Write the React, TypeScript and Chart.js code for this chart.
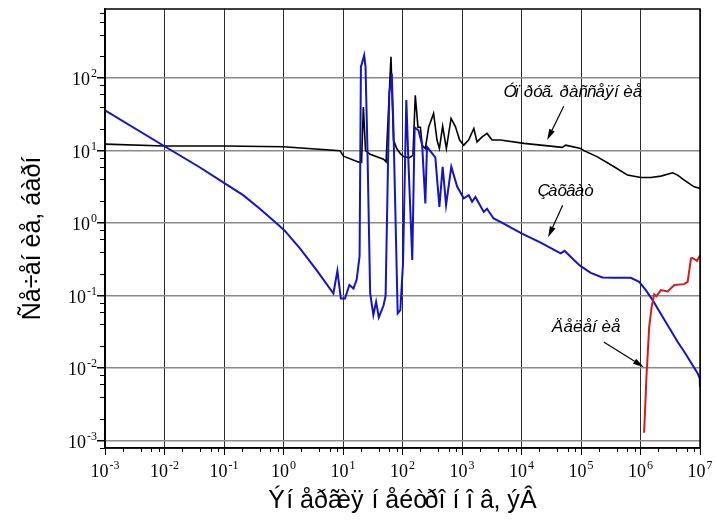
import { useEffect, useRef } from "react";
import { Chart, registerables } from "chart.js";

Chart.register(...registerables);

// Capture cross-section (blue)
const captureEnergy = [
  1e-3, 0.01, 0.039, 0.1, 0.21, 0.4, 0.77, 1.03, 1.89, 3.6, 6.9, 8.05, 9.2, 10.8, 12.8, 15, 17, 19,
  20, 22.7, 23.9, 25.7, 28.6, 32.4, 36, 40, 48, 52, 60, 66, 70.6, 83, 92, 102, 116, 126, 146, 160,
  186, 214, 242, 258, 356, 417, 473, 540, 661, 828, 1070, 1300, 1480, 1680, 2320, 2630, 3400, 4430,
  10000, 21000, 45500, 53000, 76000, 98800, 1.46e5, 2.29e5, 3.6e5, 6.87e5, 9.5e5, 1.23e6, 1.6e6,
  1.94e6, 4.2e6, 5.44e6, 9.15e6, 9.9e6, 1e7,
];
const captureXs = [
  36, 11.5, 5.9, 3.6, 2.43, 1.58, 0.99, 0.8, 0.448, 0.225, 0.107, 0.22, 0.091, 0.091, 0.14, 0.125,
  0.168, 0.35, 143, 207, 143, 11.3, 0.108, 0.054, 0.082, 0.05, 0.073, 0.1, 62, 116, 19.2, 0.057,
  0.063, 0.28, 50, 6.7, 0.31, 21, 19, 12, 1.87, 11.3, 8.1, 1.68, 6.0, 1.77, 6.0, 3.2, 2.2, 2.43,
  1.97, 2.3, 1.43, 1.58, 1.16, 1.04, 0.72, 0.537, 0.382, 0.415, 0.31, 0.255, 0.206, 0.178, 0.176,
  0.176, 0.155, 0.119, 0.0867, 0.0665, 0.0231, 0.0168, 0.00845, 0.0072, 0.0055,
];

// Elastic scattering cross-section (black)
const elasticEnergy = [
  1e-3, 0.01, 0.1, 1, 8.9, 10.2, 18, 20.5, 22, 23.9, 28.6, 48, 53, 64, 70.6, 80, 92, 104, 130, 150,
  164, 182, 200, 214, 242, 275, 333, 380, 417, 473, 546, 655, 775, 913, 1070, 1290, 1580, 1790,
  2180, 2630, 3200, 4430, 11000, 48600, 55200, 98800, 1.12e5, 1.89e5, 3.6e5, 6.05e5, 1.01e6, 1.5e6,
  2.2e6, 3.47e6, 4.2e6, 5.43e6, 8.0e6, 1e7,
];
const elasticXs = [
  12.3, 11.6, 11.6, 11.3, 10.0, 8.4, 7.0, 6.9, 40, 10, 8.9, 7.6, 7.0, 197, 14, 10.7, 9.1, 8.3, 8.0,
  8.6, 58, 21, 21, 11.8, 10.7, 21, 32.6, 14, 10.7, 21.8, 10.7, 27.8, 21.5, 14, 11.9, 14, 20.2, 13.2,
  15.5, 17.3, 14, 14, 12.6, 11.1, 11.9, 10.7, 10, 8.2, 6.0, 4.6, 4.27, 4.27, 4.45, 4.95, 4.6, 3.92,
  3.17, 3.01,
];

// Fission cross-section (red)
const fissionEnergy = [
  1.15e6, 1.26e6, 1.4e6, 1.54e6, 1.7e6, 1.85e6, 2.2e6, 2.86e6, 3.7e6, 5.4e6, 6.2e6, 7.06e6, 7.5e6,
  8.5e6, 8.9e6, 1e7,
];
const fissionXs = [
  0.00128, 0.0077, 0.037, 0.07, 0.104, 0.098, 0.119, 0.114, 0.14, 0.144, 0.155, 0.326, 0.33, 0.31,
  0.3, 0.36,
];

// Axis ranges and decade exponents for tick labels
const xExponents = [-3, -2, -1, 0, 1, 2, 3, 4, 5, 6, 7];
const yExponents = [-3, -2, -1, 0, 1, 2];
const xRange = [1e-3, 1e7];
const yRange = [7.9e-4, 900];
const minorSteps = [2, 4, 6, 8];

// Titles are stored as single-byte (1251) text shown through a Latin-1 font
const xTitle = "Ýíåðãèÿ íåéòðîíîâ, ýÂ";
const yTitle = "Ñå÷åíèå, áàðí";

// Annotations: [text, text x, text y, arrow start x, arrow start y, arrow tip x, arrow tip y] in data units
const notes: [string, number, number, number, number, number, number][] = [
  ["Óïðóã. ðàññåÿíèå", 4990, 54.7, 51200, 41, 27000, 14],
  ["Çàõâàò", 18600, 2.35, 49200, 1.77, 28000, 0.64],
  ["Äåëåíèå", 32100, 0.0314, 2.41e5, 0.0229, 1.14e6, 0.0103],
];

const serif = '"Liberation Serif", "Times New Roman", serif';
const sans = '"Liberation Sans", Arial, sans-serif';

function pairs(xs: number[], ys: number[]) {
  return xs.map((x, i) => ({ x, y: ys[i] }));
}

// Glyph advance follows the 1251 letter the byte stands for, as the original font metrics did
function advanceOf(ctx: CanvasRenderingContext2D, ch: string) {
  const c = ch.charCodeAt(0);
  const src = c >= 0xc0 && c <= 0xff ? String.fromCharCode(0x410 + c - 0xc0) : ch;
  return ctx.measureText(src).width;
}

function drawCodepageText(ctx: CanvasRenderingContext2D, text: string, x: number, y: number, align: "left" | "center") {
  const chars = Array.from(text);
  const adv = chars.map((ch) => advanceOf(ctx, ch));
  const total = adv.reduce((s, v) => s + v, 0);
  let cx = align === "center" ? x - total / 2 : x;
  ctx.textAlign = "left";
  chars.forEach((ch, i) => {
    ctx.fillText(ch, cx, y);
    cx += adv[i];
  });
}

function drawPower(ctx: CanvasRenderingContext2D, exp: number, px: number, baseline: number, align: "center" | "right") {
  const base = "10";
  const sup = String(exp);
  ctx.font = `18px ${serif}`;
  const wb = ctx.measureText(base).width;
  ctx.font = `12px ${serif}`;
  const ws = ctx.measureText(sup).width;
  const total = wb + 1 + ws;
  const left = align === "center" ? px - total / 2 : px - total;
  ctx.textAlign = "left";
  ctx.textBaseline = "alphabetic";
  ctx.font = `18px ${serif}`;
  ctx.fillText(base, left, baseline);
  ctx.font = `12px ${serif}`;
  ctx.fillText(sup, left + wb + 1, baseline - 8);
}

const decorations = {
  id: "decorations",
  afterDraw(chart: any) {
    const { ctx, chartArea: a } = chart;
    const xs = chart.scales.x;
    const ys = chart.scales.y;
    ctx.save();
    ctx.fillStyle = "#000";
    ctx.strokeStyle = "#000";

    // plot frame
    ctx.lineWidth = 1.5;
    ctx.strokeRect(a.left, a.top, a.right - a.left, a.bottom - a.top);

    // minor ticks
    ctx.lineWidth = 1;
    ctx.beginPath();
    for (const e of xExponents) {
      for (const m of minorSteps) {
        const v = m * Math.pow(10, e);
        if (v < xRange[0] || v > xRange[1]) continue;
        const p = Math.round(xs.getPixelForValue(v)) + 0.5;
        ctx.moveTo(p, a.bottom);
        ctx.lineTo(p, a.bottom + 4);
      }
    }
    for (let e = -4; e <= 2; e++) {
      for (const m of minorSteps) {
        const v = m * Math.pow(10, e);
        if (v < yRange[0] || v > yRange[1]) continue;
        const p = Math.round(ys.getPixelForValue(v)) + 0.5;
        ctx.moveTo(a.left - 5, p);
        ctx.lineTo(a.left, p);
      }
    }
    ctx.stroke();

    // tick labels
    for (const e of xExponents) {
      drawPower(ctx, e, xs.getPixelForValue(Math.pow(10, e)), a.bottom + 29, "center");
    }
    for (const e of yExponents) {
      drawPower(ctx, e, a.left - 8, ys.getPixelForValue(Math.pow(10, e)) + 7, "right");
    }

    // axis titles
    ctx.textBaseline = "alphabetic";
    ctx.font = `25px ${sans}`;
    drawCodepageText(ctx, xTitle, (a.left + a.right) / 2, 508, "center");
    ctx.save();
    ctx.translate(40, 235);
    ctx.rotate(-Math.PI / 2);
    ctx.font = `25px ${sans}`;
    drawCodepageText(ctx, yTitle, 0, 0, "center");
    ctx.restore();

    // annotations with arrows
    for (const [text, tx, ty, sx, sy, ex, ey] of notes) {
      ctx.font = `italic 17px ${sans}`;
      drawCodepageText(ctx, text, xs.getPixelForValue(tx), ys.getPixelForValue(ty), "left");
      const x0 = xs.getPixelForValue(sx);
      const y0 = ys.getPixelForValue(sy);
      const x1 = xs.getPixelForValue(ex);
      const y1 = ys.getPixelForValue(ey);
      const ang = Math.atan2(y1 - y0, x1 - x0);
      const headLen = 11;
      const headHalf = 3;
      const bx = x1 - headLen * Math.cos(ang);
      const by = y1 - headLen * Math.sin(ang);
      ctx.lineWidth = 1.2;
      ctx.beginPath();
      ctx.moveTo(x0, y0);
      ctx.lineTo(bx, by);
      ctx.stroke();
      ctx.beginPath();
      ctx.moveTo(x1, y1);
      ctx.lineTo(bx + headHalf * Math.sin(ang), by - headHalf * Math.cos(ang));
      ctx.lineTo(bx - headHalf * Math.sin(ang), by + headHalf * Math.cos(ang));
      ctx.closePath();
      ctx.fill();
    }
    ctx.restore();
  },
};

export default function App() {
  const canvasRef = useRef<HTMLCanvasElement | null>(null);

  useEffect(() => {
    const canvas = canvasRef.current;
    if (!canvas) return;
    const chart = new Chart(canvas, {
      type: "scatter",
      data: {
        datasets: [
          {
            label: "fission",
            data: pairs(fissionEnergy, fissionXs),
            borderColor: "#d41c1c",
            borderWidth: 2,
            showLine: true,
            pointRadius: 0,
            tension: 0,
          },
          {
            label: "capture",
            data: pairs(captureEnergy, captureXs),
            borderColor: "#1414c4",
            borderWidth: 2,
            showLine: true,
            pointRadius: 0,
            tension: 0,
          },
          {
            label: "elastic",
            data: pairs(elasticEnergy, elasticXs),
            borderColor: "#000000",
            borderWidth: 1.6,
            showLine: true,
            pointRadius: 0,
            tension: 0,
          },
        ],
      },
      options: {
        responsive: false,
        animation: false,
        devicePixelRatio: 1,
        layout: { padding: { left: 0, right: 17, top: 9, bottom: 0 } },
        plugins: { legend: { display: false }, tooltip: { enabled: false } },
        scales: {
          x: {
            type: "logarithmic",
            min: xRange[0],
            max: xRange[1],
            afterBuildTicks: (scale: any) => {
              scale.ticks = xExponents.map((e) => ({ value: Math.pow(10, e) }));
            },
            afterFit: (scale: any) => {
              scale.height = 72;
            },
            ticks: { display: false },
            grid: { color: "#2a2a2a", lineWidth: 1, tickLength: 7, tickColor: "#000" },
            border: { display: true, color: "#000", width: 1.5 },
          },
          y: {
            type: "logarithmic",
            min: yRange[0],
            max: yRange[1],
            afterBuildTicks: (scale: any) => {
              scale.ticks = yExponents.map((e) => ({ value: Math.pow(10, e) }));
            },
            afterFit: (scale: any) => {
              scale.width = 105;
            },
            ticks: { display: false },
            grid: { color: "#8a8a8a", lineWidth: 1.5, tickLength: 8, tickColor: "#000" },
            border: { display: true, color: "#000", width: 1.5 },
          },
        },
      },
      plugins: [decorations],
    });
    return () => chart.destroy();
  }, []);

  return (
    <div style={{ position: "absolute", left: 0, top: 0, width: 717, height: 520, background: "#fff" }}>
      <canvas ref={canvasRef} width={717} height={520} style={{ width: 717, height: 520, display: "block" }} />
    </div>
  );
}
